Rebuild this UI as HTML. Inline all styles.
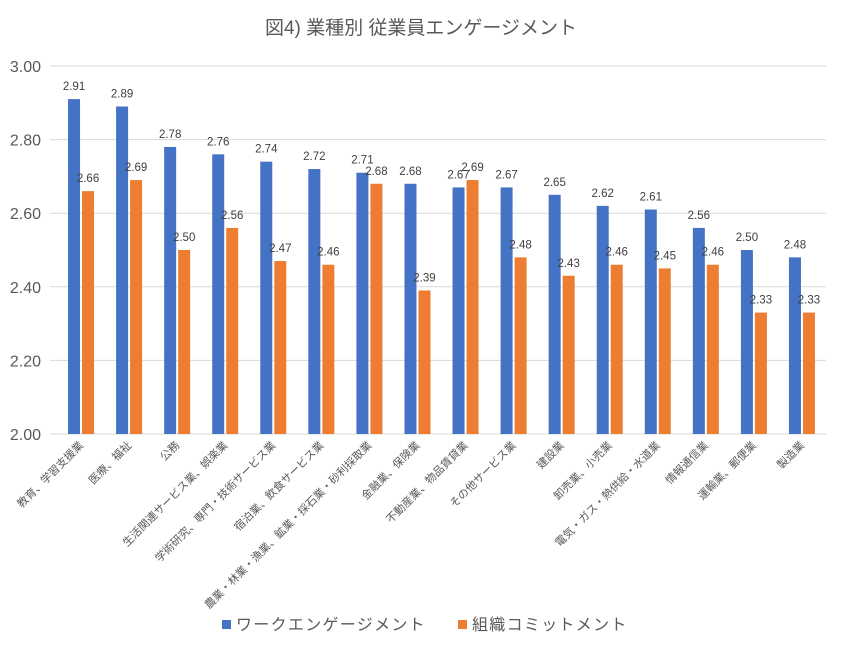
<!DOCTYPE html>
<html><head><meta charset="utf-8"><style>
body{margin:0;background:#fff;font-family:"Liberation Sans","Noto Sans CJK JP",sans-serif;}
svg text{font-family:"Liberation Sans","Noto Sans CJK JP",sans-serif;}
</style></head><body>
<svg id="chart" width="842" height="650">
<text x="421" y="34" text-anchor="middle" font-size="19" fill="#595959">図4) 業種別 従業員エンゲージメント</text>
<g id="grid"></g><g id="bars"></g><g id="labels"></g>
<g>
<rect x="222" y="620" width="9" height="9" fill="#4472C4"/>
<text x="236" y="630" font-size="16" letter-spacing="1.3" fill="#595959">ワークエンゲージメント</text>
<rect x="458" y="620" width="9" height="9" fill="#ED7D31"/>
<text x="472" y="630" font-size="16" letter-spacing="1.3" fill="#595959">組織コミットメント</text>
</g>
</svg>
<script>
const categories=["教育、学習支援業","医療、福祉","公務","生活関連サービス業、娯楽業","学術研究、専門・技術サービス業","宿泊業、飲食サービス業","農業・林業・漁業、鉱業・採石業・砂利採取業","金融業、保険業","不動産業、物品賃貸業","その他サービス業","建設業","卸売業、小売業","電気・ガス・熱供給・水道業","情報通信業","運輸業、郵便業","製造業"];
const workValues=[2.91,2.89,2.78,2.76,2.74,2.72,2.71,2.68,2.67,2.67,2.65,2.62,2.61,2.56,2.50,2.48];
const orgValues=[2.66,2.69,2.50,2.56,2.47,2.46,2.68,2.39,2.69,2.48,2.43,2.46,2.45,2.46,2.33,2.33];
const yTicks=[2.00,2.20,2.40,2.60,2.80,3.00];
const NS="http://www.w3.org/2000/svg";
const X0=57,X1=826,Y0=434,Y1=66,YMIN=2,YMAX=3;
const step=(X1-X0)/categories.length;
function y(v){return Y0-(v-YMIN)/(YMAX-YMIN)*(Y0-Y1);}
function cx(i){return X0+step*(i+0.5);}
function mk(tag,attrs,parent){const e=document.createElementNS(NS,tag);for(const k in attrs)e.setAttribute(k,attrs[k]);parent.appendChild(e);return e;}
const grid=document.getElementById('grid'),bars=document.getElementById('bars'),labels=document.getElementById('labels');
yTicks.forEach(t=>{
 const l=mk('line',{x1:50,x2:826,y1:y(t),y2:y(t),stroke:'#D9D9D9','stroke-width':1},grid);
 
 
 const tx=mk('text',{x:41,y:y(t)+6,'text-anchor':'end','font-size':16,fill:'#595959'},grid);
 tx.textContent=t.toFixed(2);
 
 
});
const bw=12;
categories.forEach((c,i)=>{
 const c0=cx(i);
 [[workValues[i],'#4472C4',c0-13,'bar-work'],[orgValues[i],'#ED7D31',c0+1,'bar-org']].forEach(([v,col,x,nm])=>{
  const r=mk('rect',{x:x,y:y(v),width:bw,height:Y0-y(v),fill:col},bars);
  
  
  const t=mk('text',{x:x+bw/2,y:y(v)-9,'text-anchor':'middle','font-size':11.5,fill:'#404040'},labels);
  t.textContent=v.toFixed(2);
  
  
 });
 const lt=mk('text',{x:0,y:0,'text-anchor':'end','font-size':11,fill:'#595959',transform:`translate(${c0+3},${446}) rotate(-45)`},labels);
 lt.textContent=c;
 
 
});
</script>
</body></html>
